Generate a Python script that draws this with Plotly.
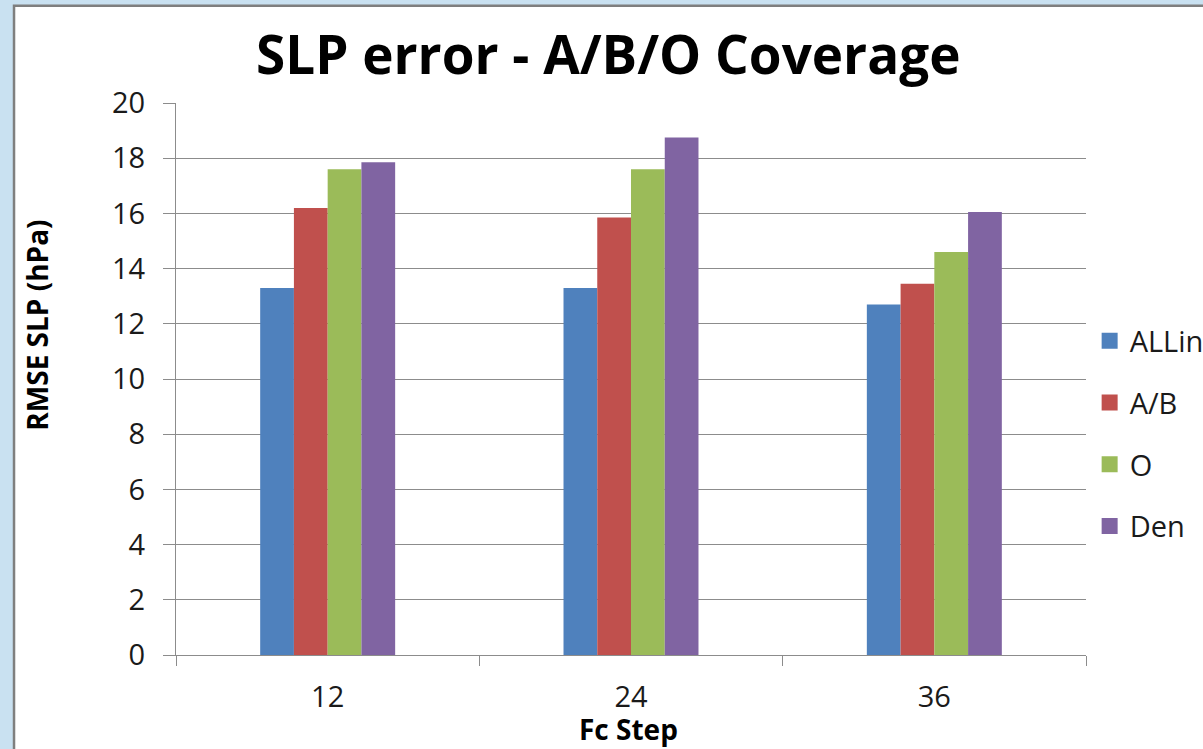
import plotly.graph_objects as go

steps = ["12", "24", "36"]
allin = [13.3, 13.3, 12.7]
ab = [16.2, 15.85, 13.45]
obs = [17.6, 17.6, 14.6]
den = [17.85, 18.75, 16.05]

series = [("ALLin", allin, "#4F81BD"), ("A/B", ab, "#C0504D"),
          ("O", obs, "#9BBB59"), ("Den", den, "#8064A2")]

fig = go.Figure()
for i, (name, vals, col) in enumerate(series):
    fig.add_trace(go.Bar(x=steps, y=vals, name=name, marker_color=col,
                         marker_line_width=0, showlegend=False))
    # legend-only entry so the swatch is a bigger square, like Excel's
    fig.add_trace(go.Scatter(x=[None], y=[None], mode="markers", name=name,
                             marker=dict(symbol="square", size=20, color=col),
                             legendgroup=str(i)))

font = "Open Sans, Liberation Sans, sans-serif"
grey = "#8c8c8c"

fig.update_layout(
    width=1203, height=749,
    margin=dict(l=176, r=117, t=103, b=94, autoexpand=False),
    paper_bgcolor="#c9e1f1",
    plot_bgcolor="white",
    barmode="group", bargap=0.555, bargroupgap=0,
    font=dict(family=font, size=29, color="#1a1a1a"),
    title=dict(text="<b>SLP error - A/B/O Coverage</b>", x=0.475, xref="paper",
               xanchor="center", y=1 - 55 / 749, yanchor="middle",
               font=dict(size=53, color="black", family=font)),
    legend=dict(x=1.004, xanchor="left", y=0.615, yanchor="top",
                traceorder="grouped", tracegroupgap=21,
                font=dict(size=29), bgcolor="rgba(0,0,0,0)"),
    shapes=[dict(type="rect", xref="paper", yref="paper", layer="below",
                 x0=-0.178, x1=1.2, y0=-0.3, y1=1.176,
                 fillcolor="white", line=dict(color="#7f7f7f", width=2.5))],
    annotations=[
        dict(text="<b>RMSE SLP (hPa)</b>", xref="paper", yref="paper",
             x=-0.153, y=0.598, xanchor="center", yanchor="middle",
             textangle=-90, showarrow=False,
             font=dict(size=28, color="black")),
        dict(text="<b>Fc Step</b>", xref="paper", yref="paper",
             x=0.497, y=-0.134, xanchor="center", yanchor="middle",
             showarrow=False, font=dict(size=28, color="black")),
    ],
)

fig.update_yaxes(range=[0, 20], dtick=2, showgrid=True, gridcolor=grey,
                 gridwidth=1.3, showline=True, linecolor=grey, linewidth=1.3,
                 ticks="outside", ticklen=12, tickcolor=grey,
                 ticklabelstandoff=12, zeroline=False,
                 tickfont=dict(size=29))
fig.update_xaxes(type="category", showline=True, linecolor=grey, linewidth=1.3,
                 ticks="outside", tickson="boundaries", ticklen=10,
                 tickcolor=grey, ticklabelstandoff=16, showgrid=False,
                 tickfont=dict(size=29))

# page body has a default 8px margin; drop it so the figure sits at 0,0
fig.write_html("out.html", config={"displayModeBar": False},
               post_script="document.body.style.margin='0';")
